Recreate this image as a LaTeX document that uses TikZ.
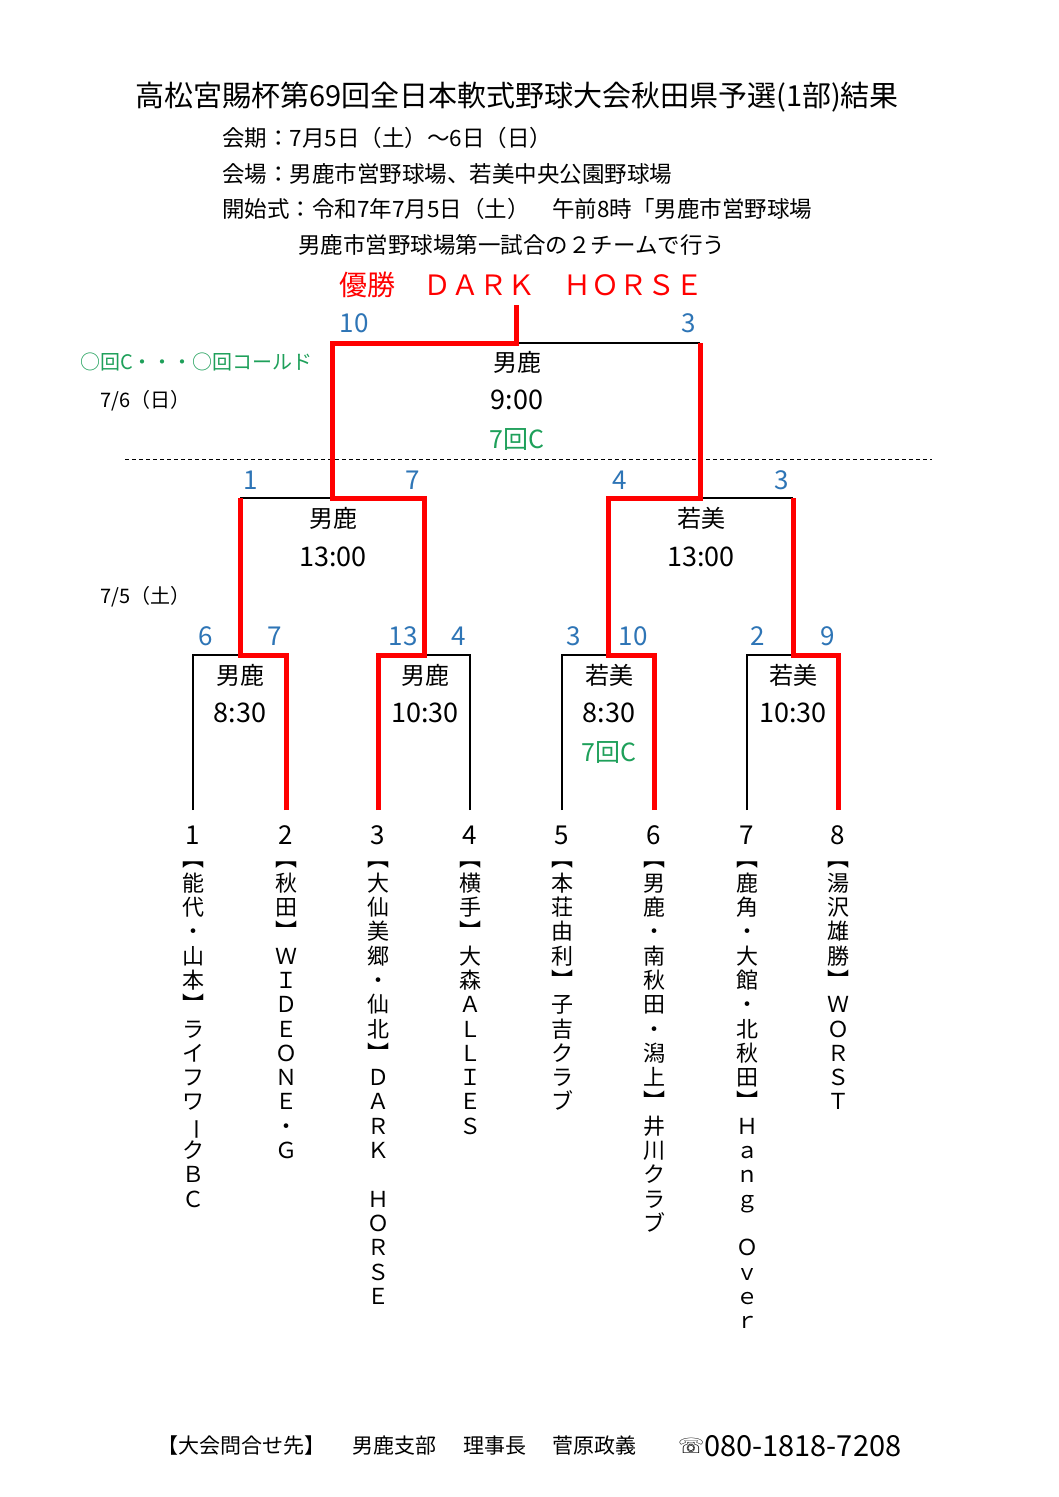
\documentclass[tikz,border=0pt]{standalone}
\usepackage{fontspec}
\usepackage{graphicx}
\usetikzlibrary{calc}
\setmainfont{Noto Sans CJK JP}
\newfontfamily\symfont{DejaVu Sans}
\definecolor{scoreblue}{RGB}{46,117,182}
\definecolor{callgreen}{RGB}{30,160,90}
\newcommand\vbar{\rotatebox[origin=c]{-90}{ー}}
\tikzset{
  win/.style={red, line width=5pt, line join=miter},
  lose/.style={black, line width=1.3pt},
  score/.style={text=scoreblue, font=\fontsize{26}{26}\selectfont, inner sep=0pt},
  venue/.style={font=\fontsize{24}{24}\selectfont, inner sep=0pt},
  gtime/.style={font=\fontsize{27}{27}\selectfont, inner sep=0pt},
  call/.style={text=callgreen, font=\fontsize{25}{25}\selectfont, inner sep=0pt},
  info/.style={anchor=west, font=\fontsize{22.5}{22.5}\selectfont, inner sep=0pt},
  teamno/.style={font=\fontsize{26}{26}\selectfont, inner sep=0pt},
  vname/.style={anchor=north, align=center, font=\fontsize{22}{24.3}\selectfont, inner sep=0pt},
  daylab/.style={anchor=west, font=\fontsize{20}{20}\selectfont, inner sep=0pt},
  foot/.style={anchor=west, font=\fontsize{21}{21}\selectfont, inner sep=0pt},
}
\begin{document}
\begin{tikzpicture}[x=1pt,y=-1pt]
\useasboundingbox[fill=white] (0,0) rectangle (1058,1497);

% ---- header texts
\node[font=\fontsize{29}{29}\selectfont, inner sep=0pt] (title) at (517,97) {高松宮賜杯第69回全日本軟式野球大会秋田県予選(1部)結果};
\node[info] (l1) at (222,138) {会期：7月5日（土）～6日（日）};
\node[info] (l2) at (222,174) {会場：男鹿市営野球場、若美中央公園野球場};
\node[info] (l3) at (222,209) {開始式：令和7年7月5日（土）　午前8時「男鹿市営野球場};
\node[info] (l4) at (298,245) {男鹿市営野球場第一試合の２チームで行う};
\node[text=red, font=\fontsize{28}{28}\selectfont, inner sep=0pt] (champ) at (521,285) {優勝　ＤＡＲＫ　ＨＯＲＳＥ};

% ---- side labels
\node[daylab, text=callgreen] (legend) at (80,362) {○回C・・・○回コールド};
\node[daylab] (d2) at (100,401) {7/6（日）};
\node[daylab] (d1) at (100,597) {7/5（土）};
\draw[black, line width=1pt, dash pattern=on 4pt off 3pt] (125,459) coordinate (dl) -- (932,459) coordinate (dr);

% ---- coordinates
\foreach \i/\x in {1/193,2/286,3/378,4/470,5/562,6/654,7/747,8/838}
  \coordinate (b\i) at (\x,810);
\coordinate (q1) at (240,655);
\coordinate (q2) at (424,655);
\coordinate (q3) at (608,655);
\coordinate (q4) at (793,655);
\coordinate (s1) at (332,498);
\coordinate (s2) at (700,498);
\coordinate (f) at (516,343);
\coordinate (c) at (516,305);

% ---- losing (black) lines
\draw[lose] (b1) |- (q1);
\draw[lose] (b4) |- (q2);
\draw[lose] (b5) |- (q3);
\draw[lose] (b7) |- (q4);
\draw[lose] (q1 |- s1) -- (s1);
\draw[lose] (q4 |- s2) -- (s2);
\draw[lose] (s2 |- f) -- (f);

% ---- winning (red) lines
\draw[win] (b2) |- (q1) -- (q1 |- s1);
\draw[win] (b3) |- (q2) |- (s1) |- (f) -- (c);
\draw[win] (b6) |- (q3) |- (s2) -- (s2 |- f);
\draw[win] (b8) |- (q4) -- (q4 |- s2);

% ---- scores
\node[score] (sf1) at (354,323) {10};
\node[score] (sf2) at (689,323) {3};
\node[score] (ss1) at (251,480) {1};
\node[score] (ss2) at (413,480) {7};
\node[score] (ss3) at (620,480) {4};
\node[score] (ss4) at (782,480) {3};
\node[score] (sq1) at (206,636) {6};
\node[score] (sq2) at (275,636) {7};
\node[score] (sq3) at (403,636) {13};
\node[score] (sq4) at (459,636) {4};
\node[score] (sq5) at (574,636) {3};
\node[score] (sq6) at (633,636) {10};
\node[score] (sq7) at (758,636) {2};
\node[score] (sq8) at (828,636) {9};

% ---- venues and times
\node[venue] (vf) at (517,362) {男鹿};
\node[gtime] (tf) at (517,400) {9:00};
\node[call] (cf) at (517,439) {7回C};
\node[venue] (vs1) at (333,518) {男鹿};
\node[gtime] (ts1) at (333,557) {13:00};
\node[venue] (vs2) at (701,518) {若美};
\node[gtime] (ts2) at (701,557) {13:00};
\node[venue] (vq1) at (240,675) {男鹿};
\node[gtime] (tq1) at (240,713) {8:30};
\node[venue] (vq2) at (425,675) {男鹿};
\node[gtime] (tq2) at (425,713) {10:30};
\node[venue] (vq3) at (609,675) {若美};
\node[gtime] (tq3) at (609,713) {8:30};
\node[call] (cq3) at (609,752) {7回C};
\node[venue] (vq4) at (793,675) {若美};
\node[gtime] (tq4) at (793,713) {10:30};

% ---- team numbers
\foreach \i in {1,...,8}
  \node[teamno] (n\i) at ($(b\i)+(0,25)$) {\i};

% ---- team names (vertical)
\node[vname] (t1) at (193,862) {︻\\能\\代\\・\\山\\本\\︼\\ラ\\イ\\フ\\ワ\\\vbar\\ク\\Ｂ\\Ｃ};
\node[vname] (t2) at (286,862) {︻\\秋\\田\\︼\\Ｗ\\Ｉ\\Ｄ\\Ｅ\\Ｏ\\Ｎ\\Ｅ\\・\\Ｇ};
\node[vname] (t3) at (378,862) {︻\\大\\仙\\美\\郷\\・\\仙\\北\\︼\\Ｄ\\Ａ\\Ｒ\\Ｋ\\　\\Ｈ\\Ｏ\\Ｒ\\Ｓ\\Ｅ};
\node[vname] (t4) at (470,862) {︻\\横\\手\\︼\\大\\森\\Ａ\\Ｌ\\Ｌ\\Ｉ\\Ｅ\\Ｓ};
\node[vname] (t5) at (562,862) {︻\\本\\荘\\由\\利\\︼\\子\\吉\\ク\\ラ\\ブ};
\node[vname] (t6) at (654,862) {︻\\男\\鹿\\・\\南\\秋\\田\\・\\潟\\上\\︼\\井\\川\\ク\\ラ\\ブ};
\node[vname] (t7) at (747,862) {︻\\鹿\\角\\・\\大\\館\\・\\北\\秋\\田\\︼\\Ｈ\\ａ\\ｎ\\ｇ\\　\\Ｏ\\ｖ\\ｅ\\ｒ};
\node[vname] (t8) at (838,862) {︻\\湯\\沢\\雄\\勝\\︼\\Ｗ\\Ｏ\\Ｒ\\Ｓ\\Ｔ};

% ---- footer
\node[foot] (ft1) at (157,1446) {【大会問合せ先】};
\node[foot] (ft2) at (352,1446) {男鹿支部};
\node[foot] (ft3) at (463,1446) {理事長};
\node[foot] (ft4) at (552,1446) {菅原政義};
\node[foot, font=\symfont\fontsize{21}{21}\selectfont] (ft5) at (678,1446) {☏};
\node[foot, font=\fontsize{29}{29}\selectfont] (ft6) at (704,1446) {080-1818-7208};
\end{tikzpicture}
\end{document}
